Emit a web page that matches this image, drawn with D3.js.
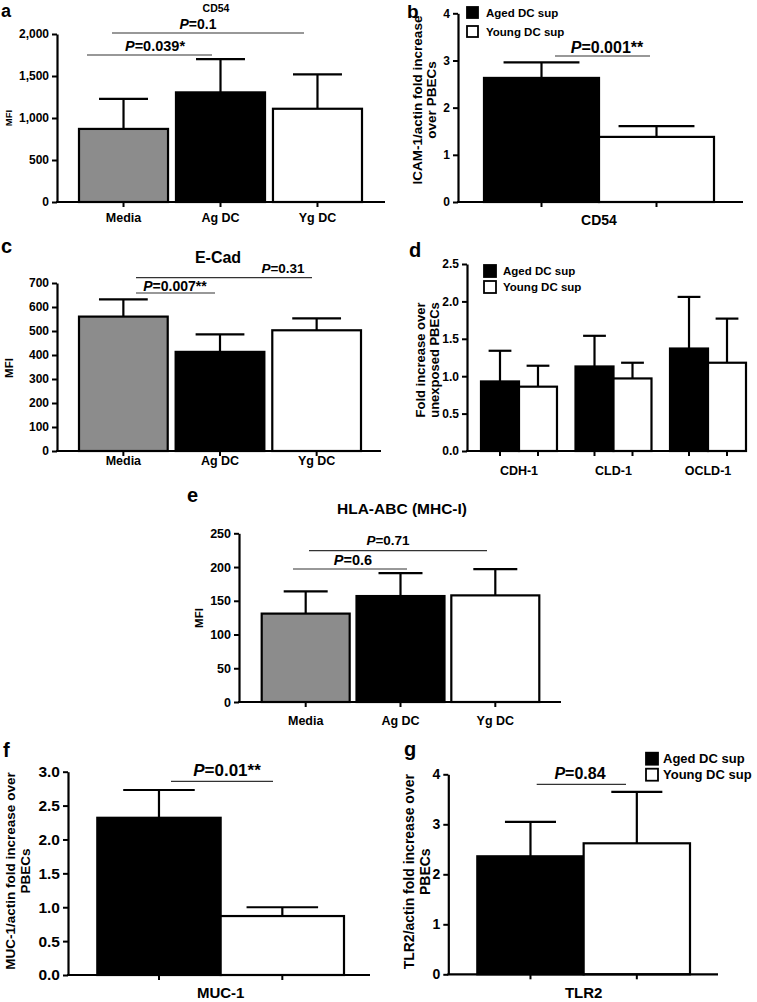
<!DOCTYPE html>
<html><head><meta charset="utf-8">
<script src="https://cdn.jsdelivr.net/npm/d3@7"></script>
<style>html,body{margin:0;padding:0;background:#fff}</style>
</head><body>
<svg id="fig" width="757" height="1002"></svg>
<script>
// ---------------- DATA ----------------
const abcCategories = ["Media", "Ag DC", "Yg DC"];
const dcSeries = ["Aged DC sup", "Young DC sup"];

const cd54Means = [870, 1305, 1110];
const cd54Errors = [358, 395, 410];
const cd54Ticks = [0, 500, 1000, 1500, 2000];
const cd54PValues = ["0.039*", "0.1"];

const icamCategories = ["CD54"];
const icamAged = [2.63];
const icamAgedErr = [0.33];
const icamYoung = [1.38];
const icamYoungErr = [0.23];
const icamTicks = [0, 1, 2, 3, 4];
const icamPValues = ["0.001**"];

const ecadMeans = [560, 413, 503];
const ecadErrors = [72, 73, 50];
const ecadTicks = [0, 100, 200, 300, 400, 500, 600, 700];
const ecadPValues = ["0.007**", "0.31"];

const junctionCategories = ["CDH-1", "CLD-1", "OCLD-1"];
const junctionAged = [0.93, 1.13, 1.37];
const junctionAgedErr = [0.41, 0.41, 0.69];
const junctionYoung = [0.86, 0.97, 1.18];
const junctionYoungErr = [0.28, 0.21, 0.59];
const junctionTicks = [0, 0.5, 1.0, 1.5, 2.0, 2.5];

const hlaMeans = [131, 157, 158];
const hlaErrors = [33, 34, 39];
const hlaTicks = [0, 50, 100, 150, 200, 250];
const hlaPValues = ["0.6", "0.71"];

const mucCategories = ["MUC-1"];
const mucAged = [2.32];
const mucAgedErr = [0.41];
const mucYoung = [0.87];
const mucYoungErr = [0.13];
const mucTicks = [0, 0.5, 1.0, 1.5, 2.0, 2.5, 3.0];
const mucPValues = ["0.01**"];

const tlrCategories = ["TLR2"];
const tlrAged = [2.36];
const tlrAgedErr = [0.69];
const tlrYoung = [2.62];
const tlrYoungErr = [1.03];
const tlrTicks = [0, 1, 2, 3, 4];
const tlrPValues = ["0.84"];

const groupFills = ["#8c8c8c", "#000000", "#ffffff"];
const seriesFills = ["#000000", "#ffffff"];

// ---------------- DRAWING ----------------
const FONT = "'Liberation Sans', Arial, Helvetica, sans-serif";
const svg = d3.select("#fig");

function pText(g, x, y, size, val) {
  const t = g.append("text").attr("x", x).attr("y", y).attr("text-anchor", "middle")
    .attr("font-size", size).attr("font-weight", "bold").attr("fill", "#000");
  t.append("tspan").attr("font-style", "italic").text("P");
  t.append("tspan").text("=" + val);
}

function drawPanel(c) {
  const g = svg.append("g").attr("font-family", FONT);
  const y = d3.scaleLinear().domain([0, d3.max(c.ticks)]).range([c.y0, c.yTop]);
  const x = d3.scaleBand().domain(c.categories).range(c.barRange)
    .paddingInner(c.pad).paddingOuter(0);

  let bars = [];
  if (c.series) {
    const inner = d3.scaleBand().domain(c.series).range([0, x.bandwidth()]).padding(0);
    c.categories.forEach((cat, i) => {
      c.series.forEach((s, j) => {
        bars.push({ cat, x: x(cat) + inner(s), w: inner.bandwidth(),
          v: c.values[j][i], e: c.errors[j][i], fill: seriesFills[j] });
      });
    });
  } else {
    bars = c.categories.map((cat, i) => ({ cat, x: x(cat), w: x.bandwidth(),
      v: c.values[i], e: c.errors[i], fill: c.fills[i] }));
  }

  // bars
  g.selectAll("rect.bar").data(bars).join("rect").attr("class", "bar")
    .attr("x", d => d.x).attr("width", d => d.w)
    .attr("y", d => y(d.v)).attr("height", d => c.y0 - y(d.v))
    .attr("fill", d => d.fill).attr("stroke", "#000").attr("stroke-width", 2.2);

  // error bars
  g.selectAll("line.err").data(bars).join("line").attr("class", "err")
    .attr("x1", d => d.x + d.w / 2).attr("x2", d => d.x + d.w / 2)
    .attr("y1", d => y(d.v)).attr("y2", d => y(d.v + d.e))
    .attr("stroke", "#000").attr("stroke-width", 2.2);
  g.selectAll("line.cap").data(bars).join("line").attr("class", "cap")
    .attr("x1", d => d.x + d.w / 2 - d.w * c.cap / 2).attr("x2", d => d.x + d.w / 2 + d.w * c.cap / 2)
    .attr("y1", d => y(d.v + d.e)).attr("y2", d => y(d.v + d.e))
    .attr("stroke", "#000").attr("stroke-width", 2.2);

  // y axis
  const ya = g.append("g").attr("transform", `translate(${c.xLeft},0)`)
    .call(d3.axisLeft(y).tickValues(c.ticks).tickFormat(c.fmt).tickSize(5).tickSizeOuter(0).tickPadding(3));
  ya.select(".domain").attr("stroke", "#000").attr("stroke-width", 2.2);
  ya.selectAll(".tick line").attr("stroke", "#000").attr("stroke-width", 2);
  ya.selectAll(".tick text").attr("font-size", c.tickFont).attr("font-weight", "bold")
    .attr("fill", "#000").attr("font-family", FONT);

  // x axis line + ticks
  g.append("line").attr("x1", c.xLeft - 1).attr("x2", c.xRight)
    .attr("y1", c.y0).attr("y2", c.y0).attr("stroke", "#000").attr("stroke-width", 2.2);
  g.selectAll("line.xt").data(bars).join("line").attr("class", "xt")
    .attr("x1", d => d.x + d.w / 2).attr("x2", d => d.x + d.w / 2)
    .attr("y1", c.y0).attr("y2", c.y0 + 5).attr("stroke", "#000").attr("stroke-width", 2);

  // category labels
  g.selectAll("text.cat").data(c.categories).join("text").attr("class", "cat")
    .attr("x", d => x(d) + x.bandwidth() / 2).attr("y", c.catY)
    .attr("text-anchor", "middle").attr("font-size", c.catFont).attr("font-weight", "bold")
    .attr("fill", "#000").text(d => d);

  // y label
  const yl = g.append("text").attr("transform", `translate(${c.ylX},${c.ylY}) rotate(-90)`)
    .attr("text-anchor", "middle").attr("font-size", c.ylFont).attr("font-weight", "bold").attr("fill", "#000");
  c.ylLines.forEach((ln, i) => {
    yl.append("tspan").attr("x", 0).attr("dy", i === 0 ? 0 : c.ylGap).text(ln);
  });

  // title
  if (c.title) {
    g.append("text").attr("x", c.title.x).attr("y", c.title.y).attr("text-anchor", "middle")
      .attr("font-size", c.title.size).attr("font-weight", "bold").attr("fill", "#000").text(c.title.text);
  }

  // panel letter
  g.append("text").attr("x", c.letter.x).attr("y", c.letter.y).attr("font-size", c.letter.size || 20)
    .attr("font-weight", "bold").attr("fill", "#000").text(c.letter.t);

  // significance
  c.sig.forEach((s, i) => {
    g.append("line").attr("x1", s.x1).attr("x2", s.x2).attr("y1", s.y).attr("y2", s.y)
      .attr("stroke", "#333").attr("stroke-width", 1.2);
    pText(g, s.tx, s.ty, s.size, c.pvals[i]);
  });

  // legend
  if (c.legend) {
    c.series.forEach((s, j) => {
      const L = c.legend;
      g.append("rect").attr("x", L.x).attr("y", L.ys[j]).attr("width", L.size).attr("height", L.size)
        .attr("fill", seriesFills[j]).attr("stroke", "#000").attr("stroke-width", 1.8);
      g.append("text").attr("x", L.tx).attr("y", L.ys[j] + L.size / 2).attr("dy", "0.36em")
        .attr("font-size", L.font).attr("font-weight", "bold").attr("fill", "#000").text(s);
    });
  }
}

const fmtInt = d3.format("d");
const fmt1 = d3.format(".1f");

// a
drawPanel({
  categories: abcCategories, values: cd54Means, errors: cd54Errors, fills: groupFills,
  ticks: cd54Ticks, fmt: d3.format(","), tickFont: 12,
  xLeft: 57, xRight: 385, y0: 202, yTop: 34, barRange: [79, 362], pad: 0.082, cap: 0.55,
  catY: 222, catFont: 12.5,
  ylLines: ["MFI"], ylX: 12, ylY: 118, ylFont: 9.5, ylGap: 0,
  title: { text: "CD54", x: 216, y: 11.5, size: 10.5 },
  letter: { t: "a", x: 1, y: 16.5, size: 18 },
  pvals: cd54PValues,
  sig: [{ x1: 87, x2: 212, y: 55, tx: 155, ty: 51, size: 14.5 },
        { x1: 112, x2: 304, y: 33, tx: 198, ty: 29, size: 14 }]
});

// b
drawPanel({
  categories: icamCategories, series: dcSeries,
  values: [icamAged, icamYoung], errors: [icamAgedErr, icamYoungErr],
  ticks: icamTicks, fmt: fmtInt, tickFont: 12,
  xLeft: 458, xRight: 743, y0: 202, yTop: 13.3, barRange: [484, 714], pad: 0, cap: 0.66,
  catY: 225, catFont: 14,
  ylLines: ["ICAM-1/actin fold increase", "over PBECs"], ylX: 422, ylY: 100, ylFont: 13.5, ylGap: 13.5,
  letter: { t: "b", x: 407, y: 17.5, size: 19 },
  pvals: icamPValues,
  sig: [{ x1: 555, x2: 650, y: 56, tx: 607, ty: 53, size: 16 }],
  legend: { x: 467, ys: [7, 26], size: 11, tx: 486, font: 11.5 }
});

// c
drawPanel({
  categories: abcCategories, values: ecadMeans, errors: ecadErrors, fills: groupFills,
  ticks: ecadTicks, fmt: fmtInt, tickFont: 12,
  xLeft: 57, xRight: 381, y0: 451, yTop: 283, barRange: [79, 361], pad: 0.082, cap: 0.55,
  catY: 465, catFont: 12.5,
  ylLines: ["MFI"], ylX: 13, ylY: 368, ylFont: 11.5, ylGap: 0,
  title: { text: "E-Cad", x: 218, y: 263, size: 16 },
  letter: { t: "c", x: 1, y: 253 },
  pvals: ecadPValues,
  sig: [{ x1: 136, x2: 215, y: 293, tx: 175, ty: 291, size: 14 },
        { x1: 136, x2: 312, y: 277.7, tx: 283, ty: 273, size: 13.5 }]
});

// d
drawPanel({
  categories: junctionCategories, series: dcSeries,
  values: [junctionAged, junctionYoung], errors: [junctionAgedErr, junctionYoungErr],
  ticks: junctionTicks, fmt: fmt1, tickFont: 12,
  xLeft: 467, xRight: 747, y0: 451, yTop: 264, barRange: [481, 746], pad: 0.196, cap: 0.6,
  catY: 475, catFont: 12.5,
  ylLines: ["Fold increase over", "unexposed PBECs"], ylX: 425, ylY: 360, ylFont: 13, ylGap: 13.5,
  letter: { t: "d", x: 409, y: 257 },
  pvals: [], sig: [],
  legend: { x: 484, ys: [265, 281], size: 12, tx: 503, font: 11.5 }
});

// e
drawPanel({
  categories: abcCategories, values: hlaMeans, errors: hlaErrors, fills: groupFills,
  ticks: hlaTicks, fmt: fmtInt, tickFont: 12.5,
  xLeft: 239, xRight: 561, y0: 702, yTop: 533.3, barRange: [261.7, 539.3], pad: 0.072, cap: 0.5,
  catY: 725, catFont: 12.5,
  ylLines: ["MFI"], ylX: 203, ylY: 618, ylFont: 11.5, ylGap: 0,
  title: { text: "HLA-ABC (MHC-I)", x: 402, y: 514, size: 15.5 },
  letter: { t: "e", x: 187, y: 502 },
  pvals: hlaPValues,
  sig: [{ x1: 293, x2: 407, y: 569, tx: 353, ty: 565, size: 14.5 },
        { x1: 309, x2: 487, y: 550.7, tx: 388, ty: 545, size: 13.5 }]
});

// f
drawPanel({
  categories: mucCategories, series: dcSeries,
  values: [mucAged, mucYoung], errors: [mucAgedErr, mucYoungErr],
  ticks: mucTicks, fmt: fmt1, tickFont: 15.5,
  xLeft: 68, xRight: 370, y0: 975, yTop: 771.7, barRange: [97.3, 344], pad: 0, cap: 0.58,
  catY: 997.5, catFont: 15,
  ylLines: ["MUC-1/actin fold increase over", "PBECs"], ylX: 15, ylY: 871, ylFont: 13.5, ylGap: 15,
  letter: { t: "f", x: 3, y: 757 },
  pvals: mucPValues,
  sig: [{ x1: 171, x2: 273, y: 781.3, tx: 227, ty: 776, size: 17 }]
});

// g
drawPanel({
  categories: tlrCategories, series: dcSeries,
  values: [tlrAged, tlrYoung], errors: [tlrAgedErr, tlrYoungErr],
  ticks: tlrTicks, fmt: fmtInt, tickFont: 14,
  xLeft: 448.3, xRight: 718, y0: 974.3, yTop: 774.3, barRange: [477.3, 690], pad: 0, cap: 0.48,
  catY: 997.5, catFont: 15,
  ylLines: ["TLR2/actin fold increase over", "PBECs"], ylX: 414, ylY: 871.7, ylFont: 14, ylGap: 15.5,
  letter: { t: "g", x: 404, y: 756 },
  pvals: tlrPValues,
  sig: [{ x1: 536.7, x2: 626, y: 784.3, tx: 580, ty: 779, size: 16 }],
  legend: { x: 646, ys: [752.7, 768.7], size: 12, tx: 663, font: 13 }
});
</script>
</body></html>
